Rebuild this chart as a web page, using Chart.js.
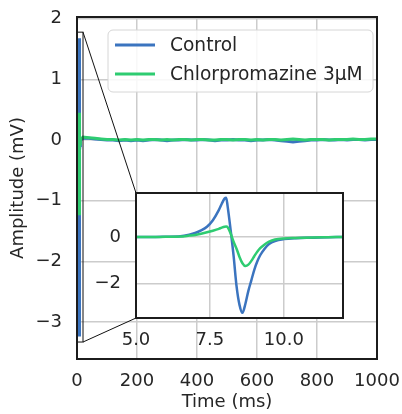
<!DOCTYPE html>
<html><head><meta charset="utf-8">
<script src="https://cdn.jsdelivr.net/npm/chart.js@4/dist/chart.umd.min.js"></script>
<style>
html,body{margin:0;padding:0;background:#fff;}
#wrap{position:relative;width:402px;height:414px;}
canvas{position:absolute;left:0;top:0;}
</style></head><body>
<div id="wrap"><canvas id="main" width="402" height="414"></canvas><canvas id="inset" width="402" height="414"></canvas></div>
<script>
// ---- data ----
const seriesNames = ['Control', 'Chlorpromazine 3\u03bcM'];
const seriesColors = ['#3b74bf', '#2ecc71'];
const leadTime = [0, 2, 4];
const leadControl = [0, 0, 0];
const leadCpz = [0, 0, 0];
const spikeTime = [5.0, 5.5, 6.0, 6.5, 6.8, 7.0, 7.2, 7.4, 7.6, 7.8, 7.9, 8.0, 8.05, 8.1, 8.2, 8.3, 8.4, 8.5, 8.6, 8.7, 8.8, 8.9, 9.0, 9.1, 9.2, 9.35, 9.5, 9.7, 10.0, 10.4, 11.0, 11.5, 12.0];
const controlSpike = [0, 0, 0.01, 0.03, 0.1, 0.17, 0.28, 0.44, 0.72, 1.15, 1.42, 1.65, 1.68, 1.3, 0.3, -0.8, -2.1, -2.9, -3.24, -2.85, -2.3, -1.85, -1.4, -1.05, -0.78, -0.5, -0.3, -0.17, -0.09, -0.05, -0.03, -0.01, 0];
const cpzSpike = [0, 0, 0.01, 0.02, 0.06, 0.09, 0.14, 0.2, 0.27, 0.35, 0.4, 0.44, 0.45, 0.42, 0.15, -0.2, -0.5, -0.85, -1.12, -1.24, -1.18, -1.02, -0.82, -0.63, -0.48, -0.32, -0.2, -0.11, -0.06, -0.04, -0.02, -0.01, 0];
const baseTime = [20, 40, 60, 80, 100, 120, 140, 160, 180, 200, 220, 240, 260, 280, 300, 320, 340, 360, 380, 400, 420, 440, 460, 480, 500, 520, 540, 560, 580, 600, 620, 640, 660, 680, 700, 720, 740, 760, 780, 800, 820, 840, 860, 880, 900, 920, 940, 960, 980, 1000];
const controlBase = [0.03, 0.03, 0.02, 0.01, 0.0, 0.0, -0.01, 0.0, -0.01, 0.0, -0.01, 0.0, 0.01, 0.0, -0.01, 0.0, 0.0, 0.01, 0.0, 0.0, 0.01, 0.0, -0.01, 0.0, 0.0, 0.01, 0.0, 0.0, -0.01, 0.0, 0.0, 0.01, 0.0, -0.01, -0.02, -0.03, -0.02, -0.01, 0.0, 0.0, 0.01, 0.0, 0.0, 0.01, 0.0, 0.01, 0.01, 0.0, 0.01, 0.01];
const cpzBase = [0.05, 0.04, 0.03, 0.02, 0.01, 0.01, 0.0, 0.01, 0.0, 0.01, 0.0, 0.01, 0.01, 0.0, 0.01, 0.0, 0.01, 0.01, 0.0, 0.01, 0.01, 0.0, 0.0, 0.01, 0.01, 0.0, 0.01, 0.01, 0.0, 0.01, 0.0, 0.01, 0.01, 0.0, 0.01, 0.02, 0.01, 0.0, 0.01, 0.01, 0.01, 0.0, 0.01, 0.01, 0.01, 0.02, 0.01, 0.01, 0.02, 0.02];
const mainXTicks = [0, 200, 400, 600, 800, 1000];
const mainYTicks = [-3, -2, -1, 0, 1, 2];
const insetXTicks = [5, 7.5, 10];
const insetYTicks = [-2, 0];
const mainXRange = [0, 1000];
const mainYRange = [-3.61, 2.03];
const insetXRange = [5, 12];
const insetYRange = [-3.46, 1.88];
const zoomBoxX = [1, 20];
const zoomBoxY = [-3.33, 1.78];
const xTitle = 'Time (ms)';
const yTitle = 'Amplitude (mV)';

// ---- styling ----
const FONT = 'DejaVu Sans';
const TXT = '#262626';
const GRID = '#cccccc';
const EDGE = '#1c1c1c';
Chart.defaults.font.family = FONT;
Chart.defaults.font.size = 18;
Chart.defaults.color = TXT;

const pts = (t, v) => t.map((x, i) => ({x: x, y: v[i]}));
const fmtMinus = v => String(v).replace('-', '\u2212');
const setTicks = arr => (s => { s.ticks = arr.map(v => ({value: v})); });
const fixBox = (w, h) => (s => {
  if (w !== null) s.width = w;
  if (h !== null) s.height = h;
  s.paddingLeft = 0; s.paddingRight = 0; s.paddingTop = 0; s.paddingBottom = 0;
});

const mainControl = pts(leadTime.concat(spikeTime, baseTime), leadControl.concat(controlSpike, controlBase));
const mainCpz = pts(leadTime.concat(spikeTime, baseTime), leadCpz.concat(cpzSpike, cpzBase));

const insetPlugin = {
  id: 'insetFrame',
  beforeDraw(c) {
    const a = c.chartArea, ctx = c.ctx;
    ctx.save(); ctx.fillStyle = '#fff';
    ctx.fillRect(a.left, a.top, a.right - a.left, a.bottom - a.top);
    ctx.restore();
  },
  afterDatasetsDraw(c) {
    const a = c.chartArea, ctx = c.ctx;
    ctx.save(); ctx.strokeStyle = EDGE; ctx.lineWidth = 2;
    ctx.strokeRect(a.left, a.top, a.right - a.left, a.bottom - a.top);
    ctx.restore();
  }
};

const inset = new Chart(document.getElementById('inset'), {
  type: 'line',
  data: {datasets: [
    {label: seriesNames[0], data: pts(spikeTime, controlSpike), borderColor: seriesColors[0], borderWidth: 2.5, pointRadius: 0, cubicInterpolationMode: 'monotone', order: 2},
    {label: seriesNames[1], data: pts(spikeTime, cpzSpike), borderColor: seriesColors[1], borderWidth: 2.5, pointRadius: 0, cubicInterpolationMode: 'monotone', order: 1}
  ]},
  options: {
    responsive: false, animation: false, devicePixelRatio: 1,
    layout: {padding: {left: 0, top: 193, right: 59, bottom: 0}},
    plugins: {legend: {display: false}, tooltip: {enabled: false}},
    scales: {
      x: {type: 'linear', min: insetXRange[0], max: insetXRange[1],
        afterBuildTicks: setTicks(insetXTicks),
        afterFit: fixBox(null, 96),
        grid: {color: GRID, lineWidth: 1.5, drawTicks: false},
        border: {display: false},
        ticks: {padding: 12, maxRotation: 0, callback: v => v.toFixed(1)}},
      y: {type: 'linear', min: insetYRange[0], max: insetYRange[1],
        afterBuildTicks: setTicks(insetYTicks),
        afterFit: fixBox(136, null),
        grid: {color: GRID, lineWidth: 1.5, drawTicks: false},
        border: {display: false},
        ticks: {padding: 15, callback: v => fmtMinus(v)}}
    }
  },
  plugins: [insetPlugin]
});

const mainPlugin = {
  id: 'mainExtras',
  beforeDraw(c) {
    const ctx = c.ctx;
    ctx.save(); ctx.fillStyle = '#fff'; ctx.fillRect(0, 0, c.width, c.height); ctx.restore();
  },
  afterDatasetsDraw(c) {
    const a = c.chartArea, ctx = c.ctx, xs = c.scales.x, ys = c.scales.y;
    ctx.save();
    const x0 = xs.getPixelForValue(zoomBoxX[0]), x1 = xs.getPixelForValue(zoomBoxX[1]);
    const y0 = ys.getPixelForValue(zoomBoxY[1]), y1 = ys.getPixelForValue(zoomBoxY[0]);
    ctx.strokeStyle = '#111'; ctx.lineWidth = 1;
    ctx.strokeRect(x0, y0, x1 - x0, y1 - y0);
    const ia = inset.chartArea;
    ctx.beginPath();
    ctx.moveTo(x1, y0); ctx.lineTo(ia.left, ia.top);
    ctx.moveTo(x1, y1); ctx.lineTo(ia.left, ia.bottom);
    ctx.stroke();
    ctx.strokeStyle = EDGE; ctx.lineWidth = 2;
    ctx.strokeRect(a.left, a.top, a.right - a.left, a.bottom - a.top);
    ctx.restore();
  },
  afterDraw(c) {
    const ctx = c.ctx;
    ctx.save();
    const bx = 108, by = 30, bw = 265, bh = 62, r = 5;
    ctx.beginPath();
    ctx.moveTo(bx + r, by); ctx.lineTo(bx + bw - r, by); ctx.arcTo(bx + bw, by, bx + bw, by + r, r);
    ctx.lineTo(bx + bw, by + bh - r); ctx.arcTo(bx + bw, by + bh, bx + bw - r, by + bh, r);
    ctx.lineTo(bx + r, by + bh); ctx.arcTo(bx, by + bh, bx, by + bh - r, r);
    ctx.lineTo(bx, by + r); ctx.arcTo(bx, by, bx + r, by, r); ctx.closePath();
    ctx.fillStyle = 'rgba(255,255,255,0.85)'; ctx.fill();
    ctx.strokeStyle = '#d6d6d6'; ctx.lineWidth = 1; ctx.stroke();
    c.data.datasets.forEach((ds, i) => {
      const yy = by + 15 + i * 29;
      ctx.strokeStyle = ds.borderColor; ctx.lineWidth = 3;
      ctx.beginPath(); ctx.moveTo(115, yy); ctx.lineTo(155, yy); ctx.stroke();
      ctx.fillStyle = TXT; ctx.font = '18.6px "' + FONT + '"';
      ctx.textBaseline = 'middle'; ctx.textAlign = 'left';
      ctx.fillText(ds.label, 170, yy + 1);
    });
    ctx.restore();
  }
};

new Chart(document.getElementById('main'), {
  type: 'line',
  data: {datasets: [
    {label: seriesNames[0], data: mainControl, borderColor: seriesColors[0], borderWidth: 3, pointRadius: 0, tension: 0, order: 2},
    {label: seriesNames[1], data: mainCpz, borderColor: seriesColors[1], borderWidth: 3, pointRadius: 0, tension: 0, order: 1}
  ]},
  options: {
    responsive: false, animation: false, devicePixelRatio: 1,
    layout: {padding: {left: 0, top: 17, right: 25, bottom: 0}},
    plugins: {legend: {display: false}, tooltip: {enabled: false}},
    scales: {
      x: {type: 'linear', min: mainXRange[0], max: mainXRange[1],
        afterBuildTicks: setTicks(mainXTicks),
        afterFit: fixBox(null, 55),
        grid: {color: GRID, lineWidth: 1.5, drawTicks: false},
        border: {display: false},
        title: {display: true, text: xTitle, padding: {top: 0, bottom: 1}},
        ticks: {padding: 12, maxRotation: 0, callback: v => String(v)}},
      y: {type: 'linear', min: mainYRange[0], max: mainYRange[1],
        afterBuildTicks: setTicks(mainYTicks),
        afterFit: fixBox(77, null),
        grid: {color: GRID, lineWidth: 1.5, drawTicks: false},
        border: {display: false},
        title: {display: true, text: yTitle, padding: {top: 8, bottom: 0}},
        ticks: {padding: 15, callback: v => fmtMinus(v)}}
    }
  },
  plugins: [mainPlugin]
});
</script>
</body></html>
